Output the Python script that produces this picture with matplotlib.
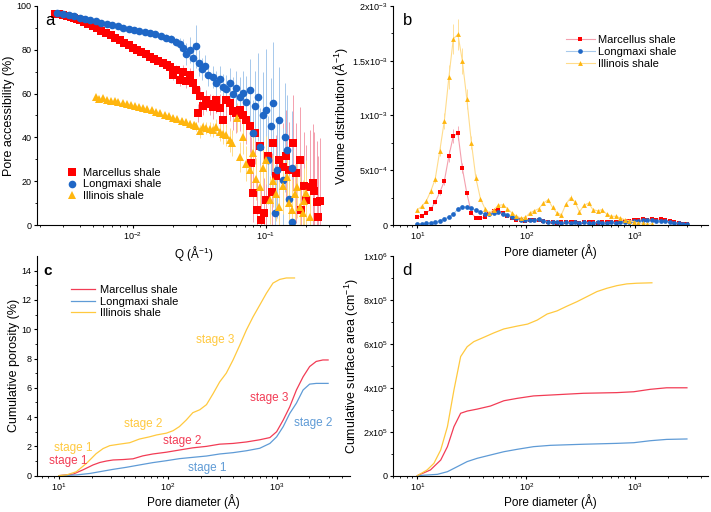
import matplotlib
matplotlib.use("Agg")
import matplotlib.pyplot as plt

plt.rcParams['font.family'] = ['Liberation Sans', 'DejaVu Sans']
plt.rcParams['mathtext.fontset'] = 'custom'
plt.rcParams['mathtext.rm'] = 'Liberation Sans'
plt.rcParams['mathtext.it'] = 'Liberation Sans:italic'
plt.rcParams['mathtext.bf'] = 'Liberation Sans:bold'

# ---- panel a: pore accessibility vs Q ----
q_mar = [0.0026, 0.0028, 0.0030, 0.0032, 0.0034, 0.0036, 0.0038, 0.0040, 0.0043, 0.0046,
         0.0050, 0.0054, 0.0058, 0.0063, 0.0068, 0.0074, 0.0080, 0.0086, 0.0093, 0.0100,
         0.0108, 0.0116, 0.0125, 0.0135, 0.0145, 0.0156, 0.0168, 0.0180, 0.0190, 0.0200,
         0.0213, 0.0225, 0.0239, 0.0253, 0.0268, 0.0284, 0.0301, 0.0310, 0.0319, 0.0338,
         0.0358, 0.0380, 0.0402, 0.0425, 0.0451, 0.0475, 0.0506, 0.0535, 0.0568, 0.0600,
         0.0638, 0.0675, 0.0716, 0.0760, 0.0780, 0.0800, 0.0830, 0.0860, 0.0900, 0.0930,
         0.0980, 0.1010, 0.1050, 0.1110, 0.1135, 0.1200, 0.1270, 0.1350, 0.1430, 0.1510,
         0.1605, 0.1700, 0.1800, 0.1860, 0.1950, 0.2020, 0.2140, 0.2270, 0.2330, 0.2420,
         0.2460, 0.2550]
acc_mar = [96.5, 96.2, 95.8, 95.3, 94.9, 94.4, 94.0, 93.5, 92.7, 91.8,
           90.6, 89.7, 88.6, 87.5, 86.5, 85.4, 84.5, 83.2, 82.0, 80.7,
           79.8, 78.9, 77.9, 76.9, 75.8, 75.0, 73.9, 73.0, 72.3, 68.5,
           70.8, 66.0, 70.0, 65.5, 68.5, 64.7, 61.7, 51.0, 58.7, 54.5,
           57.0, 55.0, 54.0, 57.0, 53.3, 48.0, 57.0, 55.6, 52.0, 51.0,
           52.6, 50.3, 48.0, 45.0, 28.3, 14.6, 42.0, 7.0, 35.9, 2.4,
           5.5, 11.6, 31.3, 15.0, 37.4, 22.2, 29.8, 26.7, 31.3, 25.0,
           37.4, 23.7, 29.7, 6.8, 17.6, 11.4, 17.4, 19.1, 15.3, 10.5,
           3.7, 10.8]
err_mar = [0.5, 0.5, 0.5, 0.5, 0.5, 0.5, 0.5, 0.6, 0.6, 0.6,
           0.7, 0.7, 0.7, 0.8, 0.8, 0.8, 0.9, 0.9, 1.0, 1.0,
           1.1, 1.1, 1.2, 1.3, 1.4, 1.5, 1.6, 1.8, 2.0, 2.2,
           2.4, 2.6, 2.8, 3.0, 3.2, 3.5, 3.8, 4.0, 4.2, 4.5,
           4.8, 5.0, 5.5, 6.0, 6.5, 7.0, 7.5, 8.0, 8.5, 9.0,
           9.5, 10.0, 11.0, 12.0, 12.0, 13.0, 14.0, 14.0, 15.0, 15.0,
           16.0, 16.0, 17.0, 18.0, 18.0, 19.0, 20.0, 20.0, 21.0, 22.0,
           22.0, 23.0, 24.0, 24.0, 25.0, 25.0, 26.0, 27.0, 27.0, 28.0,
           28.0, 29.0]

q_lon = [0.0027, 0.0030, 0.0033, 0.0036, 0.0040, 0.0044, 0.0048, 0.0053, 0.0058, 0.0064,
         0.0070, 0.0077, 0.0085, 0.0093, 0.0102, 0.0112, 0.0123, 0.0135, 0.0148, 0.0162,
         0.0178, 0.0195, 0.0210, 0.0225, 0.0240, 0.0253, 0.0268, 0.0284, 0.0301, 0.0316,
         0.0330, 0.0350, 0.0370, 0.0400, 0.0425, 0.0451, 0.0480, 0.0506, 0.0535, 0.0568,
         0.0600, 0.0640, 0.0672, 0.0716, 0.0757, 0.0800, 0.0830, 0.0870, 0.0900, 0.0950,
         0.1010, 0.1050, 0.1090, 0.1130, 0.1170, 0.1220, 0.1270, 0.1340, 0.1390, 0.1440,
         0.1500, 0.1570, 0.1590]
acc_lon = [96.7, 96.3, 95.8, 95.3, 94.7, 94.1, 93.5, 92.9, 92.3, 91.8,
           91.3, 90.7, 90.0, 89.6, 89.0, 88.6, 88.1, 87.6, 87.0, 86.3,
           85.5, 84.8, 83.5, 82.5, 81.0, 78.0, 80.0, 76.0, 81.5, 74.0,
           71.0, 72.5, 68.5, 67.6, 65.0, 66.5, 63.0, 62.0, 64.8, 60.0,
           62.5, 58.5, 60.3, 56.0, 61.6, 42.0, 54.5, 58.4, 35.6, 50.0,
           52.5, 29.7, 45.0, 55.7, 5.5, 25.0, 48.0, 20.5, 40.0, 34.2,
           12.0, 26.0, 1.4]
err_lon = [0.4, 0.4, 0.4, 0.4, 0.5, 0.5, 0.5, 0.5, 0.6, 0.6,
           0.6, 0.7, 0.7, 0.8, 0.8, 0.9, 1.0, 1.1, 1.2, 1.4,
           1.6, 1.8, 2.0, 3.0, 4.0, 5.0, 6.0, 7.0, 10.0, 6.0,
           5.0, 5.0, 5.0, 5.0, 5.5, 6.0, 6.0, 6.5, 7.0, 7.5,
           8.0, 9.0, 10.0, 12.0, 14.0, 15.0, 16.0, 20.0, 18.0, 20.0,
           28.0, 20.0, 22.0, 28.0, 22.0, 22.0, 24.0, 24.0, 25.0, 25.0,
           26.0, 26.0, 26.0]

q_ill = [0.0053, 0.0056, 0.0060, 0.0064, 0.0068, 0.0073, 0.0078, 0.0084, 0.0090, 0.0097,
         0.0104, 0.0112, 0.0120, 0.0129, 0.0139, 0.0150, 0.0161, 0.0174, 0.0187, 0.0201,
         0.0216, 0.0233, 0.0250, 0.0268, 0.0288, 0.0301, 0.0319, 0.0338, 0.0358, 0.0380,
         0.0402, 0.0425, 0.0451, 0.0480, 0.0506, 0.0535, 0.0560, 0.0610, 0.0640, 0.0670,
         0.0716, 0.0760, 0.0800, 0.0850, 0.0900, 0.0950, 0.1010, 0.1070, 0.1130, 0.1200,
         0.1270, 0.1350, 0.1440, 0.1510, 0.1590, 0.1650, 0.1710, 0.1800, 0.1900, 0.1960,
         0.2020, 0.2140]
acc_ill = [58.4, 57.5, 57.9, 57.0, 56.8, 56.4, 56.0, 55.6, 55.2, 54.8,
           54.3, 53.8, 53.3, 52.9, 52.3, 51.7, 51.0, 50.3, 49.6, 48.9,
           48.2, 47.5, 46.9, 46.3, 45.6, 45.0, 42.7, 44.6, 44.2, 43.8,
           43.5, 44.7, 42.5, 41.5, 41.0, 39.0, 37.4, 49.0, 31.0, 40.0,
           28.0, 25.0, 33.0, 21.0, 17.4, 26.0, 29.7, 11.4, 20.0, 14.0,
           8.2, 18.0, 22.0, 10.0, 6.8, 14.0, 17.4, 8.2, 5.5, 11.0,
           14.6, 3.7]
err_ill = [0.6, 0.6, 0.6, 0.6, 0.6, 0.6, 0.6, 0.7, 0.7, 0.7,
           0.7, 0.8, 0.8, 0.8, 0.9, 0.9, 1.0, 1.0, 1.1, 1.2,
           1.3, 1.4, 1.5, 1.6, 1.8, 2.0, 3.0, 2.5, 2.8, 3.0,
           3.2, 3.5, 4.0, 4.5, 5.0, 5.5, 6.0, 6.5, 7.0, 7.5,
           8.0, 8.5, 9.0, 9.5, 10.0, 10.0, 11.0, 11.0, 12.0, 12.0,
           12.0, 13.0, 13.0, 13.0, 14.0, 14.0, 14.0, 14.0, 15.0, 15.0,
           15.0, 15.0]

# ---- panel b: volume distribution (x1e-4 per A) ----
diam_b = [10, 11, 12.1, 13.3, 14.6, 16.1, 17.7, 19.5, 21.4, 23.6,
          25.9, 28.5, 31.4, 34.5, 38, 41.8, 45.9, 50.5, 55.6, 61.2,
          67.3, 74, 81.4, 89.5, 98.5, 108, 119, 131, 144, 159,
          175, 192, 211, 232, 256, 281, 309, 340, 374, 411,
          453, 498, 548, 602, 663, 729, 802, 882, 970, 1067,
          1174, 1291, 1420, 1562, 1718, 1890, 2079, 2287, 2516, 2767,
          3000]
vol_mar = [0.73, 0.85, 1.1, 1.45, 2.1, 3.0, 4.0, 6.3, 8.1, 8.4,
           5.2, 2.9, 1.1, 0.65, 0.6, 0.75, 1.0, 1.3, 1.35, 1.1,
           0.85, 0.65, 0.5, 0.45, 0.4, 0.45, 0.5, 0.45, 0.35, 0.3,
           0.25, 0.2, 0.25, 0.3, 0.25, 0.3, 0.2, 0.25, 0.3, 0.25,
           0.2, 0.3, 0.25, 0.3, 0.25, 0.3, 0.35, 0.4, 0.45, 0.5,
           0.55, 0.5, 0.55, 0.5, 0.55, 0.45, 0.35, 0.25, 0.15, 0.08,
           0.05]
vol_lon = [0.1, 0.12, 0.15, 0.2, 0.28, 0.4, 0.55, 0.75, 1.0, 1.45,
           1.65, 1.65, 1.55, 1.35, 1.15, 1.0, 1.0, 1.1, 1.15, 1.05,
           0.9, 0.75, 0.6, 0.5, 0.45, 0.45, 0.5, 0.55, 0.4, 0.3,
           0.25, 0.25, 0.2, 0.25, 0.2, 0.25, 0.2, 0.25, 0.2, 0.2,
           0.25, 0.2, 0.2, 0.25, 0.2, 0.25, 0.3, 0.3, 0.35, 0.4,
           0.45, 0.45, 0.45, 0.4, 0.4, 0.35, 0.3, 0.2, 0.15, 0.08,
           0.05]
vol_ill = [1.4, 1.7, 2.2, 3.1, 4.2, 6.8, 9.5, 13.5, 17.0, 17.4,
           15.0, 11.5, 7.5, 4.3, 2.4, 1.5, 1.1, 1.4, 1.8, 1.85,
           1.5, 1.1, 0.8, 0.65, 0.7, 1.1, 1.3, 1.5, 2.0, 2.3,
           1.6, 1.1, 0.95, 1.9, 2.5, 2.1, 1.2, 1.8, 2.0, 1.4,
           1.3, 1.4, 1.0, 0.8, 0.8, 0.65, 0.5, 0.4, 0.3, 0.2,
           0.15, 0.1, 0.1]

# ---- panel c: cumulative porosity (%) ----
d_c_mar = [10, 13.5, 16.7, 20.6, 23.8, 27.4, 31.5, 39, 48, 59, 73, 97, 128, 170, 227,
           300, 398, 528, 700, 867, 1000, 1150, 1320, 1520, 1750, 2010, 2310, 2660, 2970]
por_mar = [0, 0.1, 0.4, 0.73, 0.9, 1.0, 1.07, 1.1, 1.15, 1.35, 1.48, 1.6, 1.75, 1.9, 2.0,
           2.15, 2.2, 2.3, 2.45, 2.6, 3.0, 3.8, 4.7, 5.85, 6.75, 7.45, 7.8, 7.9, 7.9]
d_c_lon = [10, 14.5, 19.3, 23.8, 31.5, 41.7, 55, 73, 97, 128, 170, 227, 300, 398, 528,
           700, 867, 1000, 1150, 1320, 1520, 1750, 2010, 2310, 2660, 2970]
por_lon = [0, 0.05, 0.15, 0.27, 0.43, 0.57, 0.73, 0.89, 1.02, 1.16, 1.25, 1.34, 1.48, 1.57, 1.7,
           1.87, 2.2, 2.65, 3.35, 4.25, 4.95, 5.85, 6.25, 6.3, 6.3, 6.3]
d_c_ill = [10, 11.8, 14.5, 18, 22, 25.5, 29.4, 36, 44.8, 55, 68, 79, 97, 112, 128, 148,
           170, 197, 227, 261, 300, 345, 398, 458, 528, 608, 700, 805, 926, 1066, 1228, 1460]
por_ill = [0, 0.05, 0.27, 0.85, 1.5, 1.85, 2.05, 2.15, 2.25, 2.5, 2.65, 2.78, 2.9, 3.07, 3.35, 3.8,
           4.3, 4.5, 4.85, 5.6, 6.4, 7.0, 7.9, 8.9, 9.95, 10.85, 11.65, 12.45, 13.15, 13.4, 13.5, 13.5]

# stage annotations: (text, x, y, series)
stages = [('stage 1', 13.5, 1.87, 'ill'), ('stage 1', 12.2, 1.0, 'mar'),
          ('stage 2', 59, 3.5, 'ill'), ('stage 2', 135, 2.4, 'mar'),
          ('stage 1', 229, 0.5, 'lon'), ('stage 3', 270, 9.27, 'ill'),
          ('stage 3', 863, 5.33, 'mar'), ('stage 2', 2150, 3.58, 'lon')]

# ---- panel d: cumulative surface area (x1e5 cm-1) ----
d_d_mar = [10, 13.2, 16.4, 18.9, 21.7, 25, 28.7, 35.5, 47, 62.4, 82.9, 117, 167, 336, 681,
           975, 1380, 1950, 3000]
sa_mar = [0, 0.26, 0.71, 1.32, 2.23, 2.84, 2.94, 3.03, 3.17, 3.41, 3.52, 3.63, 3.67, 3.75, 3.78,
          3.82, 3.93, 4.0, 4.0]
d_d_lon = [10, 15.3, 18.9, 23.3, 28.7, 35.5, 47, 62.4, 82.9, 117, 167, 336, 681, 975, 1380,
           1950, 3000]
sa_lon = [0, 0.06, 0.18, 0.41, 0.64, 0.79, 0.94, 1.09, 1.2, 1.32, 1.38, 1.43, 1.47, 1.5, 1.59,
          1.65, 1.67]
d_d_ill = [10, 12.3, 14.2, 16.4, 18.9, 21.7, 25, 28.7, 33, 40.9, 50.5, 62.4, 82.9, 103, 126,
           156, 192, 238, 293, 362, 447, 551, 681, 840, 1037, 1430]
sa_ill = [0, 0.26, 0.56, 1.17, 2.23, 3.9, 5.42, 5.87, 6.1, 6.3, 6.5, 6.68, 6.81, 6.9, 7.08,
          7.36, 7.5, 7.72, 7.92, 8.15, 8.38, 8.53, 8.65, 8.73, 8.76, 8.78]

names = {'mar': 'Marcellus shale', 'lon': 'Longmaxi shale', 'ill': 'Illinois shale'}
mk_col = {'mar': '#ff0000', 'lon': '#1f67c6', 'ill': '#ffb60f'}
err_col = {'mar': '#f4a0ae', 'lon': '#a7c9ec', 'ill': '#ffdc8c'}
line_col = {'mar': '#f23c55', 'lon': '#5f9bd6', 'ill': '#ffc93f'}


def style(ax):
    for s in ['top', 'right']:
        ax.spines[s].set_visible(False)
    ax.patch.set_visible(False)
    ax.tick_params(which='major', direction='out', length=2.5, width=0.8, labelsize=6.5, pad=1.5)
    ax.tick_params(which='minor', direction='out', length=1.5, width=0.6)


fig = plt.figure(figsize=(7.11, 5.12), dpi=100)
ax_a = fig.add_axes([0.052, 0.5605, 0.440, 0.428])
ax_b = fig.add_axes([0.553, 0.5605, 0.443, 0.428])
ax_c = fig.add_axes([0.052, 0.071, 0.440, 0.429])
ax_d = fig.add_axes([0.553, 0.071, 0.443, 0.429])

# panel a
for key, q, acc, err, mk in [('mar', q_mar, acc_mar, err_mar, 's'),
                             ('lon', q_lon, acc_lon, err_lon, 'o'),
                             ('ill', q_ill, acc_ill, err_ill, '^')]:
    ax_a.errorbar(q, acc, yerr=err, fmt=mk, ms=5.5, color=mk_col[key], ecolor=err_col[key],
                  elinewidth=0.7, capsize=2, capthick=0.7, mew=0, label=names[key])
ax_a.set_xscale('log')
ax_a.set_xlim(0.0019, 0.43)
ax_a.set_ylim(0, 100)
ax_a.set_xticks([0.01, 0.1], ['10$^{-2}$', '10$^{-1}$'])
ax_a.set_yticks(range(0, 101, 20))
ax_a.set_yticks(range(10, 100, 20), minor=True)
ax_a.set_xlabel('Q (Å$^{-1}$)', fontsize=8.5, labelpad=1)
ax_a.set_ylabel('Pore accessibility (%)', fontsize=9, labelpad=1)
h, l = ax_a.get_legend_handles_labels()
ax_a.legend([x[0] for x in h], l, loc='center left', bbox_to_anchor=(0.075, 0.185),
            frameon=False, fontsize=8, handlelength=1, handletextpad=0.5,
            labelspacing=0.15, borderpad=0)
ax_a.text(0.025, 0.935, 'a', transform=ax_a.transAxes, fontsize=12, va='center')

# panel b
for key, vol, mk, ms in [('mar', vol_mar, 's', 3.5), ('lon', vol_lon, 'o', 3.4),
                         ('ill', vol_ill, '^', 3.5)]:
    x = diam_b[:len(vol)]
    y = [v * 1e-4 for v in vol]
    e = [v * 1e-4 * 0.08 for v in vol]
    ax_b.errorbar(x, y, yerr=e, fmt='-' + mk, ms=ms, color=err_col[key], lw=0.8,
                  mfc=mk_col[key], mec=mk_col[key], mew=0, ecolor=err_col[key],
                  elinewidth=0.6, capsize=1.5, capthick=0.6, label=names[key])
ax_b.set_xscale('log')
ax_b.set_xlim(6, 4700)
ax_b.set_ylim(0, 2e-3)
ax_b.set_xticks([10, 100, 1000], ['10$^{1}$', '10$^{2}$', '10$^{3}$'])
ax_b.set_yticks([0, 5e-4, 1e-3, 1.5e-3, 2e-3],
                ['0', '5x10$^{-4}$', '1x10$^{-3}$', '1.5x10$^{-3}$', '2x10$^{-3}$'])
ax_b.set_yticks([2.5e-4, 7.5e-4, 1.25e-3, 1.75e-3], minor=True)
ax_b.set_xlabel('Pore diameter (Å)', fontsize=8.5, labelpad=1)
ax_b.set_ylabel('Volume distribution (Å$^{-1}$)', fontsize=9, labelpad=1)
h, l = ax_b.get_legend_handles_labels()
ax_b.legend([x[0] for x in h], l, loc='center left', bbox_to_anchor=(0.53, 0.79),
            frameon=False, fontsize=8, handlelength=2.6, handletextpad=0.3,
            labelspacing=0.15, borderpad=0)
ax_b.text(0.03, 0.935, 'b', transform=ax_b.transAxes, fontsize=12, va='center')

# panel c
for key, d, p in [('mar', d_c_mar, por_mar), ('lon', d_c_lon, por_lon), ('ill', d_c_ill, por_ill)]:
    ax_c.plot(d, p, color=line_col[key], lw=0.9, label=names[key])
for txt, x, y, key in stages:
    ax_c.text(x, y, txt, color=line_col[key], fontsize=8.5, ha='center', va='center')
ax_c.set_xscale('log')
ax_c.set_xlim(6.3, 4700)
ax_c.set_ylim(0, 15)
ax_c.set_xticks([10, 100, 1000], ['10$^{1}$', '10$^{2}$', '10$^{3}$'])
ax_c.set_yticks(range(0, 15, 2))
ax_c.set_yticks(range(1, 15, 2), minor=True)
ax_c.set_xlabel('Pore diameter (Å)', fontsize=8.5, labelpad=1)
ax_c.set_ylabel('Cumulative porosity (%)', fontsize=9, labelpad=1)
ax_c.legend(loc='center left', bbox_to_anchor=(0.09, 0.792), frameon=False, fontsize=8,
            handlelength=2.2, handletextpad=0.4, labelspacing=0.15, borderpad=0)
ax_c.text(0.02, 0.933, 'c', transform=ax_c.transAxes, fontsize=11, va='center',
          fontweight='bold')

# panel d
for key, d, s in [('mar', d_d_mar, sa_mar), ('lon', d_d_lon, sa_lon), ('ill', d_d_ill, sa_ill)]:
    ax_d.plot(d, [v * 1e5 for v in s], color=line_col[key], lw=0.9)
ax_d.set_xscale('log')
ax_d.set_xlim(6, 4700)
ax_d.set_ylim(0, 1e6)
ax_d.set_xticks([10, 100, 1000], ['10$^{1}$', '10$^{2}$', '10$^{3}$'])
ax_d.set_yticks([0, 2e5, 4e5, 6e5, 8e5, 1e6],
                ['0', '2x10$^{5}$', '4x10$^{5}$', '6x10$^{5}$', '8x10$^{5}$', '1x10$^{6}$'])
ax_d.set_yticks([1e5, 3e5, 5e5, 7e5, 9e5], minor=True)
ax_d.set_xlabel('Pore diameter (Å)', fontsize=8.5, labelpad=1)
ax_d.set_ylabel('Cumulative surface area (cm$^{-1}$)', fontsize=9, labelpad=1)
ax_d.text(0.03, 0.933, 'd', transform=ax_d.transAxes, fontsize=12, va='center')

for ax in [ax_a, ax_b, ax_c, ax_d]:
    style(ax)

fig.savefig('out.png', dpi=100, facecolor='white')
